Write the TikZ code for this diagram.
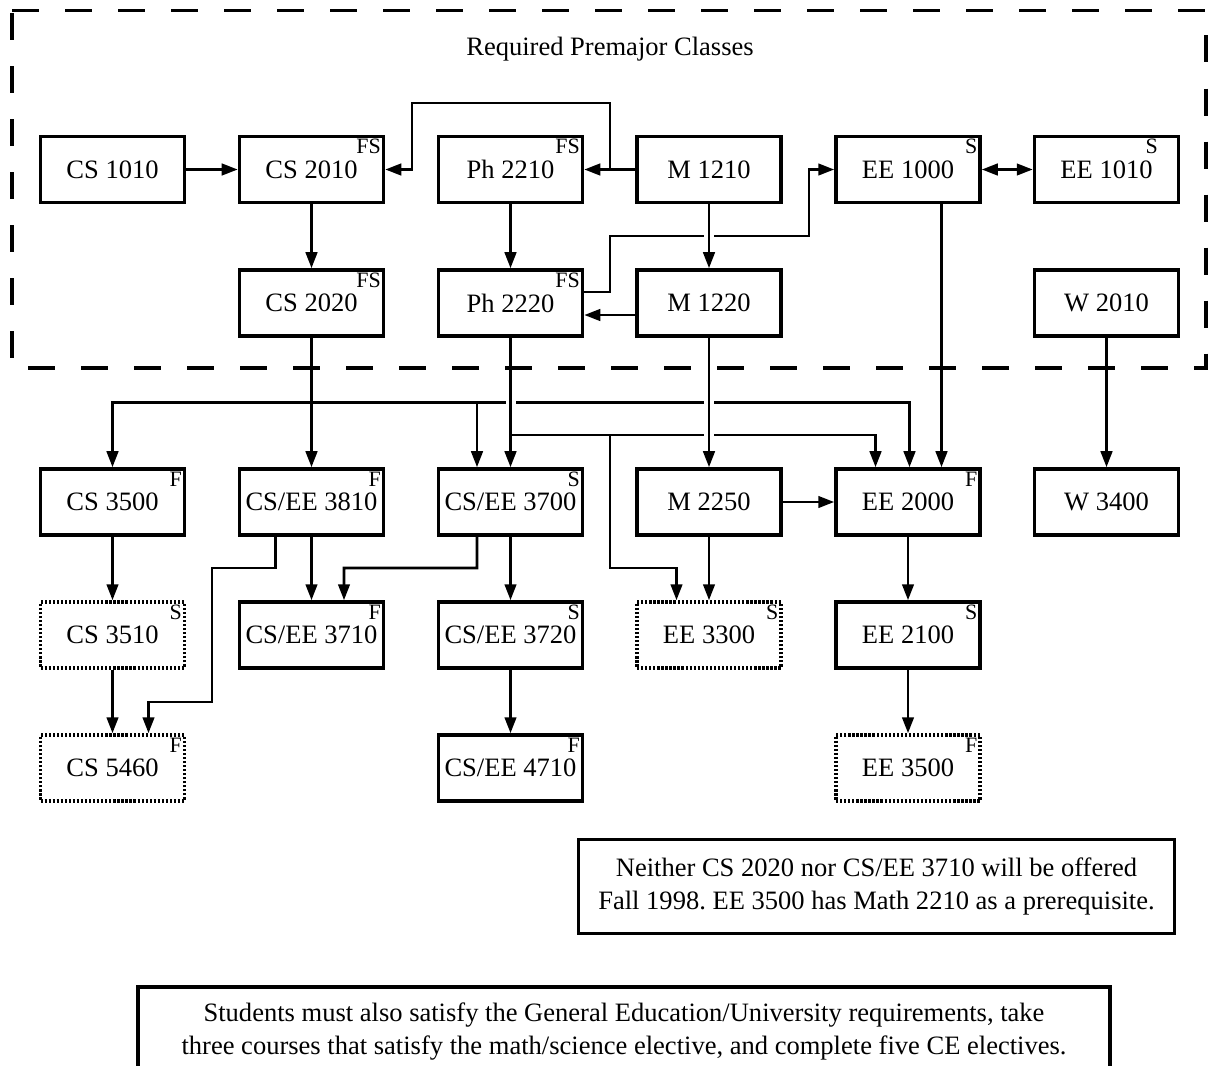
\documentclass[tikz,border=0pt]{standalone}
\usepackage{fontspec}
\setmainfont{Liberation Serif}
\usetikzlibrary{arrows.meta}

\newcommand{\linehop}[2]{\fill[white] ({#1-0.1},{#2-0.08}) rectangle ({#1+0.1},{#2+0.08});}

\begin{document}
\frenchspacing
\begin{tikzpicture}[>={Triangle[length=0.32cm, width=0.23cm]}, line width=1.6pt, font=\fontsize{15.1}{18.8}\selectfont,
		course/.style={draw, rectangle, line width=2pt, minimum width=2.88cm, minimum height=1.32cm, inner sep=0pt},
		elective/.style={course, dash pattern=on 1.3pt off 1pt},
		term label/.style={anchor=north east, inner sep=0.06cm, font=\fontsize{12.5}{13}\selectfont},
		term/.style={label={[term label]north east:#1}},
		note/.style={draw, rectangle, line width=2pt, align=center}]
		\useasboundingbox (0,0) rectangle (24.22,-21.3);
		\draw[line width=2pt, dash pattern=on 0.54cm off 0.52cm] (0.24,-0.21) -- (24.12,-0.21) -- (24.12,-7.36) -- (0.24,-7.36) -- cycle;
		\node (premajor) at (12.2,-0.98) {Required Premajor Classes};
		\node[course] (cs1010) at (2.25,-3.39) {CS 1010};
		\node[course, term=FS] (cs2010) at (6.23,-3.39) {CS 2010};
		\node[course, term=FS] (ph2210) at (10.21,-3.39) {Ph 2210};
		\node[course] (m1210) at (14.18,-3.39) {M 1210};
		\node[course, term=S] (ee1000) at (18.16,-3.39) {EE 1000};
		\node[course, label={[term label, xshift=-0.36cm]north east:S}] (ee1010) at (22.13,-3.39) {EE 1010};
		\node[course, term=FS] (cs2020) at (6.23,-6.06) {CS 2020};
		\node[course, term=FS] (ph2220) at (10.21,-6.06) {Ph 2220};
		\node[course] (m1220) at (14.18,-6.06) {M 1220};
		\node[course] (w2010) at (22.13,-6.06) {W 2010};
		\node[course, term=F] (cs3500) at (2.25,-10.04) {CS 3500};
		\node[course, term=F] (csee3810) at (6.23,-10.04) {CS/EE 3810};
		\node[course, term=S] (csee3700) at (10.21,-10.04) {CS/EE 3700};
		\node[course] (m2250) at (14.18,-10.04) {M 2250};
		\node[course, term=F] (ee2000) at (18.16,-10.04) {EE 2000};
		\node[course] (w3400) at (22.13,-10.04) {W 3400};
		\node[elective, term=S] (cs3510) at (2.25,-12.70) {CS 3510};
		\node[course, term=F] (csee3710) at (6.23,-12.70) {CS/EE 3710};
		\node[course, term=S] (csee3720) at (10.21,-12.70) {CS/EE 3720};
		\node[elective, term=S] (ee3300) at (14.18,-12.70) {EE 3300};
		\node[course, term=S] (ee2100) at (18.16,-12.70) {EE 2100};
		\node[elective, term=F] (cs5460) at (2.25,-15.36) {CS 5460};
		\node[course, term=F] (csee4710) at (10.21,-15.36) {CS/EE 4710};
		\node[elective, term=F] (ee3500) at (18.16,-15.36) {EE 3500};
		\node[note, minimum width=11.92cm, minimum height=1.88cm] (offered) at (17.53,-17.73) {Neither CS 2020 nor CS/EE 3710 will be offered\\Fall 1998. EE 3500 has Math 2210 as a prerequisite.};
		\node[note, anchor=north, minimum width=19.44cm, minimum height=1.8cm] (geneds) at (12.48,-19.7) {Students must also satisfy the General Education/University requirements, take\\three courses that satisfy the math/science elective, and complete five CE electives.};
		\coordinate (j2020) at (6.23,-8.05);
		\coordinate (j2220) at (10.21,-8.70);
		% premajor
		\draw[->] (cs1010) -- (cs2010);
		\draw[->] (cs2010) -- (cs2020);
		\draw[->] (m1210) -- (ph2210);
		\draw[->] (m1210.west) -- (12.2,-3.39) |- (8.24,-2.06) |- (cs2010.east);
		\draw[->] (ph2210) -- (ph2220);
		\draw[->] ([yshift=-0.24cm]m1220.west) -- ([yshift=-0.24cm]ph2220.east);
		\draw[->] ([yshift=0.22cm]ph2220.east) -| (12.2,-4.72) -| (16.18,-3.39) -- (ee1000.west);
		\linehop{14.18}{-4.72}
		\draw[->] (m1210) -- (m1220);
		\draw[<->] (ee1000) -- (ee1010);
		% CS 2020
		\draw[->] (cs2020) -- (csee3810);
		\draw[->] (j2020) -| (cs3500.north);
		\draw[->] (j2020) -| ([xshift=-0.67cm]csee3700.north);
		\draw[->] (j2020) -| ([xshift=0.03cm]ee2000.north);
		\linehop{10.21}{-8.05}
		\linehop{14.18}{-8.05}
		% Ph 2220
		\draw[->] (ph2220) -- (csee3700);
		\draw[->] (j2220) -| ([xshift=-0.65cm]ee2000.north);
		\draw[->] (j2220) -| (12.2,-11.36) -| ([xshift=-0.65cm]ee3300.north);
		\linehop{14.18}{-8.70}
		\draw[->] (m1220) -- (m2250);
		\draw[->] ([xshift=0.67cm]ee1000.south) -- ([xshift=0.67cm]ee2000.north);
		\draw[->] (m2250) -- (ee2000);
		\draw[->] (m2250) -- (ee3300);
		\draw[->] (w2010) -- (w3400);
		% upper division
		\draw[->] (cs3500) -- (cs3510);
		\draw[->] (cs3510) -- (cs5460);
		\draw[->] ([xshift=-0.72cm]csee3810.south) |- (4.24,-11.36) |- (2.97,-14.04) -- ([xshift=0.72cm]cs5460.north);
		\draw[->] (csee3810) -- (csee3710);
		\draw[->] ([xshift=-0.67cm]csee3700.south) |- (6.88,-11.36) -- ([xshift=0.65cm]csee3710.north);
		\draw[->] (csee3700) -- (csee3720);
		\draw[->] (csee3720) -- (csee4710);
		\draw[->] (ee2000) -- (ee2100);
		\draw[->] (ee2100) -- (ee3500);
	\end{tikzpicture}
\end{document}
